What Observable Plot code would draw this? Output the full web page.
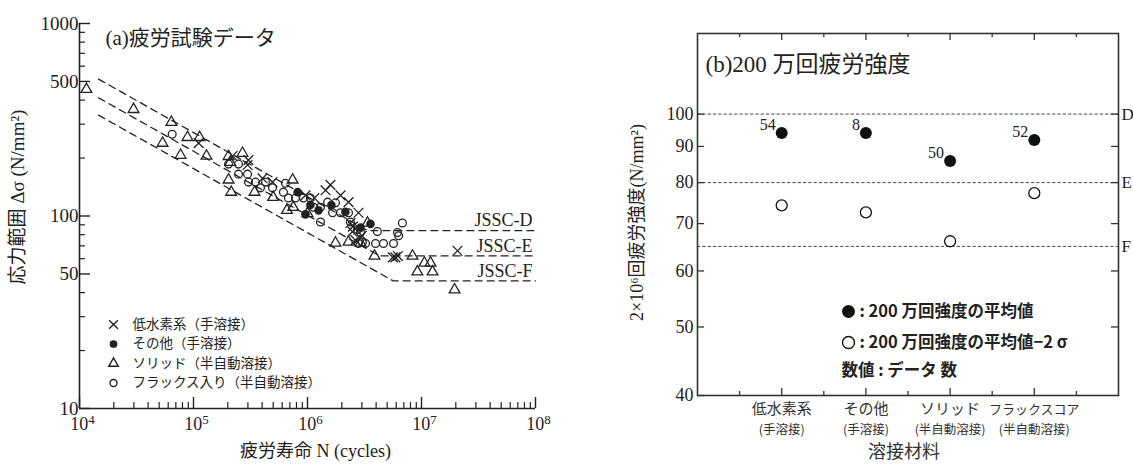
<!DOCTYPE html>
<html><head><meta charset="utf-8">
<script src="https://cdn.jsdelivr.net/npm/d3@7"></script>
<script src="https://cdn.jsdelivr.net/npm/@observablehq/plot@0.6"></script>
<style>
body{margin:0;background:#fff;width:1133px;height:464px;overflow:hidden;position:relative}
#a{position:absolute;left:0;top:0}
#b{position:absolute;left:560px;top:0}
</style></head><body><div id="a"></div><div id="b"></div>
<script>
// ---------- Panel (a) data: [N cycles, stress range N/mm2] ----------
const lowHydrogen = [[1.11e5,239],[2.2e5,205],[3.03e5,195],[2.98e5,184],[4.03e5,157],[4.93e5,150],[9.6e5,128],[1.15e6,124],[1.44e6,136],[1.59e6,145],[1.95e6,128],[2.29e6,118],[2.8e6,104],[2.38e6,92],[2.5e6,88],[2.48e6,83],[2.63e6,75],[3.0e6,79],[5.6e6,61],[5.9e6,61],[6.2e6,62],[2.07e7,66]];
const others = [[8.2e5,133],[1.06e6,114],[1.62e6,114],[3.57e6,91],[9.6e5,102],[1.25e6,107],[2.15e6,105],[2.92e6,87]];
const solid = [[1.15e4,455],[2.98e4,358],[6.4e4,307],[5.35e4,239],[8.85e4,256],[1.13e5,256],[7.7e4,207],[1.3e5,205],[2.03e5,204],[2.69e5,212],[2.1e5,190],[2.03e5,154],[2.14e5,133],[3.43e5,133],[5.0e5,125],[7.4e5,154],[6.6e5,107],[7.5e5,111],[1.0e6,103],[1.76e6,72.4],[2.29e6,73.3],[2.92e6,72.4],[3.36e6,92],[3.87e6,62],[8.34e6,62],[1.06e7,57],[1.2e7,57],[9.2e6,51.3],[1.25e7,51.3],[1.95e7,41.4]];
const flux = [[6.5e4,266],[2.03e5,186],[2.48e5,186],[2.48e5,165],[2.98e5,165],[3.04e5,150],[3.5e5,150],[4.28e5,150],[3.87e5,140],[4.93e5,140],[6.15e5,133],[6.4e5,148],[6.8e5,124],[7.85e5,124],[9.2e5,124],[1.06e6,124],[1.13e6,111],[1.3e6,111],[1.5e6,118],[1.76e6,117],[1.66e6,104],[1.95e6,104],[2.29e6,104],[1.3e6,93],[2.38e6,93],[2.75e6,85],[3.03e6,73],[6.8e6,92],[4.1e6,83],[6.15e6,82],[2.92e6,82],[2.8e6,72],[3.23e6,72],[3.95e6,72],[4.64e6,72],[5.68e6,72],[6.3e6,79]];
const legendLabelsA = ["低水素系（手溶接）","その他（手溶接）","ソリッド（半自動溶接）","フラックス入り（半自動溶接）"];

// JSSC design lines
const jsscNames = ["JSSC-D","JSSC-E","JSSC-F"];
const jsscStartN = 1.47e4;
const jsscStartS = [514, 411, 334];
const jsscKneeN = [3.37e6, 4.30e6, 5.64e6];
const jsscCutoff = [84, 62, 46];
const jsscEndN = 1e8;

const xMajorA = [1e4,1e5,1e6,1e7,1e8];
const yMajorA = [10,50,100,500,1000];
const xMinorA = [2,3,4,5,6,7,8,9].flatMap(k => [1e4,1e5,1e6,1e7].map(d => k*d));
const yMinorA = [20,30,40,60,70,80,90,200,300,400,600,700,800,900];

// ---------- Panel (b) data ----------
const categories = ["低水素系","その他","ソリッド","フラックスコア"];
const subLabels = ["(手溶接)","(手溶接)","(半自動溶接)","(半自動溶接)"];
const means = [94.0, 94.0, 85.8, 91.9];
const minus2Sigma = [74.3, 72.6, 66.1, 77.3];
const counts = [54, 8, 50, 52];
const classNamesB = ["D","E","F"];
const classLevels = [100, 80, 65];
const yTicksB = [40,50,60,70,80,90,100];
const yRightTicksB = [50,60,70,80,90,100];
const legendLabelsB = [": 200 万回強度の平均値", ": 200 万回強度の平均値−2 σ", "数値 : データ 数"];

const serif = '"Liberation Serif","DejaVu Serif","Noto Sans CJK JP",serif';
const sans = '"Noto Sans CJK JP","Noto Sans",sans-serif';
const ink = "#222";

// ---------- Panel (a) ----------
const WA = 560, H = 464, mA = {top:23,right:25,bottom:56,left:79};
const pwA = WA - mA.left - mA.right, phA = H - mA.top - mA.bottom;
const jsscRows = jsscNames.flatMap((name,i) => [
  {name, N: jsscStartN, S: jsscStartS[i]},
  {name, N: jsscKneeN[i], S: jsscCutoff[i]},
  {name, N: jsscEndN, S: jsscCutoff[i]}
]);
const symA = [
  {data: lowHydrogen, symbol: "times", fill: "none", stroke: ink, r: 4.5},
  {data: others, symbol: "circle", fill: ink, stroke: "none", r: 4.3},
  {data: solid, symbol: "triangle", fill: "none", stroke: ink, r: 4},
  {data: flux, symbol: "circle", fill: "none", stroke: ink, r: 3.9}
];
const chartA = Plot.plot({
  width: WA, height: H,
  marginTop: mA.top, marginRight: mA.right, marginBottom: mA.bottom, marginLeft: mA.left,
  style: {fontFamily: serif, color: ink, background: "white", overflow: "visible"},
  x: {type: "log", domain: [1e4, 1e8]},
  y: {type: "log", domain: [10, 1000]},
  marks: [
    Plot.ruleX([1e4], {stroke: ink, strokeWidth: 1.6}),
    Plot.ruleY([10], {stroke: ink, strokeWidth: 1.6}),
    Plot.tickX(xMajorA, {x: d => d, insetTop: phA - 11, stroke: ink, strokeWidth: 1.4}),
    Plot.tickX(xMinorA, {x: d => d, insetTop: phA - 6, stroke: ink, strokeWidth: 1.2}),
    Plot.tickY(yMajorA, {y: d => d, insetRight: pwA - 11, stroke: ink, strokeWidth: 1.4}),
    Plot.tickY(yMinorA, {y: d => d, insetRight: pwA - 6, stroke: ink, strokeWidth: 1.2}),
    Plot.axisX({ticks: xMajorA, tickSize: 0, tickPadding: 9, dx: 3, fontSize: 18, label: null,
      tickFormat: d => "10^" + Math.round(Math.log10(d))}),
    Plot.axisY({ticks: yMajorA, tickSize: 0, tickPadding: 1, fontSize: 19, label: null, tickFormat: d => String(d)}),
    Plot.line(jsscRows, {x: "N", y: "S", z: "name", stroke: ink, strokeWidth: 1.3, strokeDasharray: "7,5"}),
    Plot.text(jsscNames, {x: () => jsscEndN, y: (d,i) => jsscCutoff[i], text: d => d, textAnchor: "end", dx: -3, dy: -10, fontSize: 18}),
    ...symA.map(s => Plot.dot(s.data, {x: d => d[0], y: d => d[1], symbol: s.symbol, r: s.r, fill: s.fill, stroke: s.stroke, strokeWidth: 1.3})),
    // legend
    ...symA.map((s,i) => Plot.dot([s.symbol], {frameAnchor: "top-left", dx: 34, dy: 301 + 19.5*i, symbol: s.symbol, r: s.r*0.9, fill: s.fill, stroke: s.stroke, strokeWidth: 1.4})),
    ...legendLabelsA.map((t,i) => Plot.text([t], {frameAnchor: "top-left", dx: 53, dy: 301 + 19.5*i, text: d => d, textAnchor: "start", lineAnchor: "middle", fontSize: 13.5, fontFamily: sans})),
    // titles
    Plot.text(["(a)疲労試験データ"], {frameAnchor: "top-left", dx: 26, dy: 15, text: d => d, textAnchor: "start", lineAnchor: "middle", fontSize: 21}),
    Plot.text(["疲労寿命 N (cycles)"], {frameAnchor: "bottom", dx: 8, dy: 43, text: d => d, textAnchor: "middle", lineAnchor: "middle", fontSize: 18}),
    Plot.text(["応力範囲 Δσ (N/mm²)"], {frameAnchor: "left", dx: -62, dy: -19, rotate: -90, text: d => d, textAnchor: "middle", lineAnchor: "middle", fontSize: 19})
  ]
});
// superscript exponents on x tick labels
d3.select(chartA).selectAll('g[aria-label="x-axis tick label"] text').each(function() {
  const el = d3.select(this);
  const [b, e] = el.text().split("^");
  el.text(null);
  el.append("tspan").text(b);
  el.append("tspan").attr("dy", "-0.5em").attr("font-size", "0.72em").text(e);
});
document.getElementById("a").append(chartA);

// ---------- Panel (b) ----------
const WB = 573, mB = {top:33,right:15,bottom:69,left:137};
const pwB = WB - mB.left - mB.right, phB = H - mB.top - mB.bottom;
const xMajorB = categories.map((d,i) => i + 1);
const xMinorB = [0,1,2,3,4].map(i => i + 0.5);
const chartB = Plot.plot({
  width: WB, height: H,
  marginTop: mB.top, marginRight: mB.right, marginBottom: mB.bottom, marginLeft: mB.left,
  style: {fontFamily: serif, color: ink, background: "white", overflow: "visible"},
  x: {domain: [0, 5], axis: null},
  y: {type: "log", domain: [40, 130]},
  marks: [
    Plot.ruleY(classLevels, {y: d => d, stroke: "#333", strokeWidth: 0.9, strokeDasharray: "3.3,2"}),
    Plot.frame({stroke: "#333", strokeWidth: 1.6}),
    Plot.tickY(yTicksB, {y: d => d, insetRight: pwB - 7, stroke: "#333", strokeWidth: 1.3}),
    Plot.tickY(yRightTicksB, {y: d => d, insetLeft: pwB - 7, stroke: "#333", strokeWidth: 1.3}),
    Plot.tickX(xMajorB, {x: d => d, insetBottom: phB - 7, stroke: "#333", strokeWidth: 1.3}),
    Plot.tickX(xMinorB, {x: d => d, insetBottom: phB - 4, stroke: "#333", strokeWidth: 1.3}),
    Plot.tickX(xMajorB, {x: d => d, insetTop: phB - 7, stroke: "#333", strokeWidth: 1.3}),
    Plot.tickX(xMinorB, {x: d => d, insetTop: phB - 4, stroke: "#333", strokeWidth: 1.3}),
    Plot.axisY({ticks: yTicksB, tickSize: 0, tickPadding: 4, fontSize: 18, label: null, tickFormat: d => String(d)}),
    Plot.text(classNamesB, {x: () => 5, y: (d,i) => classLevels[i], text: d => d, textAnchor: "start", dx: 3, fontSize: 17}),
    // category labels
    Plot.text(categories, {x: (d,i) => i + 1, frameAnchor: "bottom", dy: 14, text: d => d, textAnchor: "middle", lineAnchor: "middle", fontFamily: sans, fontSize: d => d.length > 5 ? 13 : 15, fill: "#333"}),
    Plot.text(subLabels, {x: (d,i) => i + 1, frameAnchor: "bottom", dy: 34, text: d => d, textAnchor: "middle", lineAnchor: "middle", fontFamily: sans, fontSize: 12.5, fill: "#333"}),
    // data
    Plot.dot(means, {x: (d,i) => i + 1, y: d => d, r: 6, fill: "#111"}),
    Plot.dot(minus2Sigma, {x: (d,i) => i + 1, y: d => d, r: 5.5, fill: "white", stroke: "#111", strokeWidth: 1.3}),
    Plot.text(counts, {x: (d,i) => i + 1, y: (d,i) => means[i], text: d => String(d), textAnchor: "end", dx: -6, dy: -8, fontSize: 16}),
    // legend
    Plot.dot([0], {frameAnchor: "top-left", dx: 151, dy: 278, r: 6.5, fill: "#111"}),
    Plot.dot([0], {frameAnchor: "top-left", dx: 151, dy: 309, r: 6, fill: "white", stroke: "#111", strokeWidth: 1.4}),
    Plot.text([legendLabelsB[0]], {frameAnchor: "top-left", dx: 162, dy: 278, text: d => d, textAnchor: "start", lineAnchor: "middle", fontFamily: sans, fontWeight: "bold", fontSize: 16.5}),
    Plot.text([legendLabelsB[1]], {frameAnchor: "top-left", dx: 162, dy: 309, text: d => d, textAnchor: "start", lineAnchor: "middle", fontFamily: sans, fontWeight: "bold", fontSize: 16.5}),
    Plot.text([legendLabelsB[2]], {frameAnchor: "top-left", dx: 144, dy: 337, text: d => d, textAnchor: "start", lineAnchor: "middle", fontFamily: sans, fontWeight: "bold", fontSize: 16.5}),
    // titles
    Plot.text(["(b)200 万回疲労強度"], {frameAnchor: "top-left", dx: 8, dy: 31, text: d => d, textAnchor: "start", lineAnchor: "middle", fontSize: 23}),
    Plot.text(["溶接材料"], {frameAnchor: "bottom", dx: -4, dy: 57, text: d => d, textAnchor: "middle", lineAnchor: "middle", fontFamily: sans, fontSize: 18, fill: "#333"}),
    Plot.text(["2×10⁶回疲労強度(N/mm²)"], {frameAnchor: "left", dx: -60, dy: 8, rotate: -90, text: d => d, textAnchor: "middle", lineAnchor: "middle", fontSize: 18})
  ]
});
document.getElementById("b").append(chartB);
</script>
</body></html>
